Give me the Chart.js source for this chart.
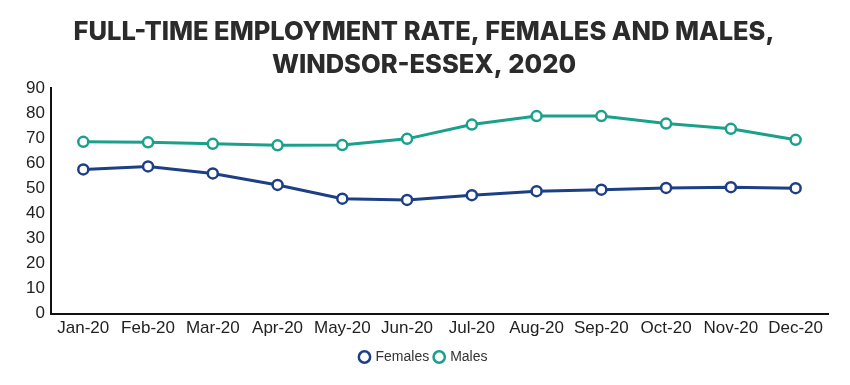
<!DOCTYPE html>
<html>
<head>
<meta charset="utf-8">
<script src="https://cdn.jsdelivr.net/npm/chart.js@4/dist/chart.umd.min.js"></script>
<style>
html,body{margin:0;padding:0;background:#fff;}
#wrap{width:850px;height:385px;}
</style>
</head>
<body>
<div id="wrap"><canvas id="c" width="850" height="385"></canvas></div>
<script>
const categories = ["Jan-20","Feb-20","Mar-20","Apr-20","May-20","Jun-20","Jul-20","Aug-20","Sep-20","Oct-20","Nov-20","Dec-20"];
const females = [57.6, 58.8, 56.0, 51.4, 45.9, 45.4, 47.3, 48.9, 49.5, 50.2, 50.5, 50.1];
const males = [68.6, 68.4, 67.8, 67.2, 67.3, 69.8, 75.5, 78.9, 78.9, 75.9, 73.8, 69.4];
const titleLines = ["FULL-TIME EMPLOYMENT RATE, FEMALES AND MALES,", "WINDSOR-ESSEX, 2020"];

const navy = "#1d3f86";
const teal = "#1aa08b";

new Chart(document.getElementById("c"), {
  type: "line",
  data: {
    labels: categories,
    datasets: [
      {label: "Females", data: females, borderColor: navy, backgroundColor: "#fff",
       borderWidth: 3, pointRadius: 5, pointBorderWidth: 2.5, pointBackgroundColor: "#fff",
       pointBorderColor: navy, tension: 0},
      {label: "Males", data: males, borderColor: teal, backgroundColor: "#fff",
       borderWidth: 3, pointRadius: 5, pointBorderWidth: 2.5, pointBackgroundColor: "#fff",
       pointBorderColor: teal, tension: 0}
    ]
  },
  options: {
    responsive: false,
    animation: false,
    layout: {padding: {left: 20, right: 22, top: 14, bottom: 11}},
    plugins: {
      title: {display: true, text: titleLines, color: "#2b2b2b",
        font: {family: "Inter", size: 25.5, weight: "800", lineHeight: 1.28},
        padding: {top: 2, bottom: 7}},
      legend: {display: true, position: "bottom",
        labels: {usePointStyle: true, pointStyle: "circle", boxWidth: 8, boxHeight: 8,
          color: "#333", padding: 6, font: {family: "Liberation Sans", size: 14}}},
      tooltip: {enabled: false}
    },
    scales: {
      x: {offset: true, grid: {display: false, drawTicks: false},
        border: {display: true, color: "#111", width: 2},
        ticks: {color: "#222", padding: 5, font: {family: "Liberation Sans", size: 17}, maxRotation: 0}},
      y: {min: 0, max: 90, grid: {display: false, drawTicks: false},
        border: {display: true, color: "#111", width: 2},
        ticks: {stepSize: 10, color: "#222", padding: 6, font: {family: "Liberation Sans", size: 17}}}
    }
  }
});
</script>
</body>
</html>
